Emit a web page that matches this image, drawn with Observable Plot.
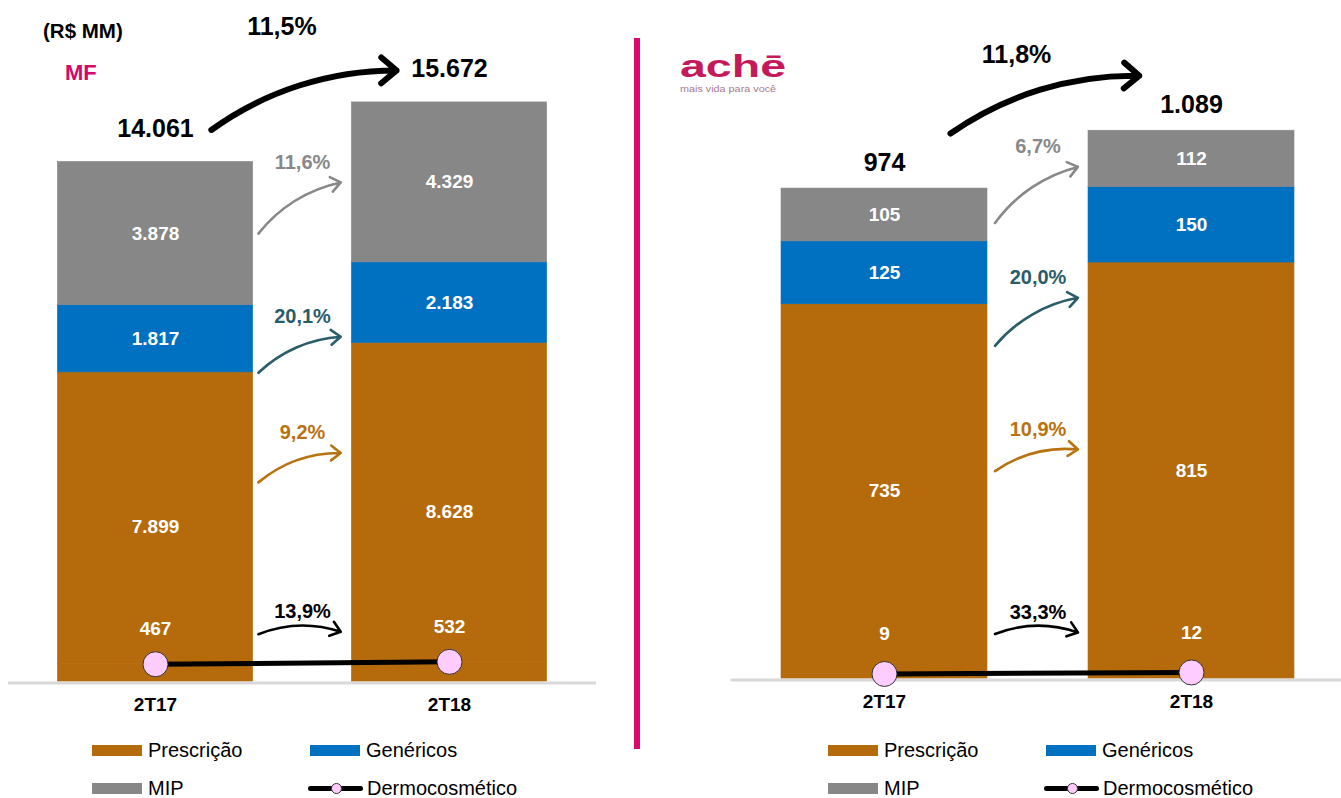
<!DOCTYPE html>
<html><head><meta charset="utf-8">
<script src="https://cdn.jsdelivr.net/npm/d3@7"></script>
<script src="https://cdn.jsdelivr.net/npm/@observablehq/plot@0.6"></script>
<style>
body{margin:0;width:1341px;height:798px;position:relative;background:#fff;font-family:"Liberation Sans",Arial,sans-serif;overflow:hidden}
.abs{position:absolute}
.lg{position:absolute;font-size:20px;color:#000;line-height:20px;white-space:nowrap}
.sw{position:absolute;height:11px;width:50px}
.ln{position:absolute;height:5px;background:#000;border-radius:3px}
.dot{position:absolute;width:11px;height:11px;border-radius:50%;background:#FFCCFF;border:1px solid #333;box-sizing:border-box}
</style></head><body>
<div id="left" class="abs" style="left:0;top:0"></div>
<div id="right" class="abs" style="left:720px;top:0"></div>
<div class="abs" style="left:43px;top:19px;font-weight:bold;font-size:20.5px">(R$ MM)</div>
<div class="abs" style="left:65px;top:60px;font-weight:bold;font-size:22px;color:#D4086E">MF</div>
<div class="abs" style="left:634px;top:38px;width:6px;height:711px;background:#DC0A6E"></div>
<div class="abs" style="left:680px;top:50px;width:108px;height:46px">
  <div style="position:absolute;left:0;top:0;font-weight:bold;font-size:31px;line-height:34px;color:#C4195A;transform:scaleX(1.5);transform-origin:0 0;white-space:nowrap">achē</div>
  <div style="position:absolute;left:0;top:34px;font-size:9px;line-height:10px;color:#A87890;transform:scaleX(1.2);transform-origin:0 0;white-space:nowrap">mais vida para você</div>
</div>
<div id="legends"></div>
<script>
// ---- data ----
const periods = ["2T17", "2T18"];
const seriesNames = ["Prescrição", "Genéricos", "MIP", "Dermocosmético"];

const mfPrescricao = [7899, 8628];
const mfGenericos = [1817, 2183];
const mfMIP = [3878, 4329];
const mfDermo = [467, 532];
const mfTotal = [14061, 15672];
const mfGrowth = ["9,2%", "20,1%", "11,6%", "13,9%"];   // Prescrição, Genéricos, MIP, Dermo
const mfTotalGrowth = "11,5%";

const achePrescricao = [735, 815];
const acheGenericos = [125, 150];
const acheMIP = [105, 112];
const acheDermo = [9, 12];
const acheTotal = [974, 1089];
const acheGrowth = ["10,9%", "20,0%", "6,7%", "33,3%"];
const acheTotalGrowth = "11,8%";

// ---- styles ----
const COLORS = {"Prescrição": "#B56B0C", "Genéricos": "#0070C0", "MIP": "#878787", "Dermocosmético": "#000000"};
const GROWTH_COLORS = {"Prescrição": "#B8720F", "Genéricos": "#2A5C6A", "MIP": "#888888", "Dermocosmético": "#000000"};
const fmt = d3.formatLocale({decimal: ",", thousands: ".", grouping: [3], currency: ["R$ ", ""]}).format(",d");

function panel(el, d, o) {
  const rows = [];
  const segs = [["Dermocosmético", d.dermo, "Prescrição"], ["Prescrição", d.presc, "Prescrição"], ["Genéricos", d.gen, "Genéricos"], ["MIP", d.mip, "MIP"]];
  periods.forEach((p, i) => {
    let acc = 0;
    for (const [key, vals, fk] of segs) {
      rows.push({i, key, value: vals[i], y1: acc, y2: acc + vals[i], fill: COLORS[fk]});
      acc += vals[i];
    }
  });
  const seg = (key, i) => rows.find(r => r.key === key && r.i === i);
  const anchorOf = (key, i, type) => {
    const r = seg(key, i);
    return type === "mid" ? (r.y1 + r.y2) / 2 : type === "top" ? r.y2 : r.value;
  };
  const growthKeys = ["Prescrição", "Genéricos", "MIP", "Dermocosmético"];
  const growthMarks = growthKeys.flatMap((key, k) => {
    const a = o.arrows[key];
    const g = [{a0: anchorOf(key, 0, a.anchor), a1: anchorOf(key, 1, a.anchor), label: d.growth[k]}];
    return [
      Plot.arrow(g, {x1: o.ax1, x2: o.ax2, y1: "a0", y2: "a1", dy: a.dy, stroke: GROWTH_COLORS[key],
        strokeWidth: 2.6, bend: 20, headLength: 7, headAngle: 75}),
      Plot.text(g, {x: 0.5, y: "a1", dy: a.dy + o.labelDy, text: "label", fill: GROWTH_COLORS[key],
        fontSize: 20, fontWeight: "bold"})
    ];
  });
  const tot = [{a0: d.total[0], a1: d.total[1], label: d.totalGrowth}];
  const presRows = rows.filter(r => r.key === "Prescrição");
  const midRows = rows.filter(r => r.key === "Genéricos" || r.key === "MIP");
  const dermoRows = rows.filter(r => r.key === "Dermocosmético");
  const totals = periods.map((p, i) => ({i, total: d.total[i]}));

  const chart = Plot.plot({
    width: o.width, height: 720,
    marginLeft: o.ml, marginRight: o.mr, marginTop: 0, marginBottom: o.mb,
    x: {domain: o.xdomain, axis: null},
    y: {domain: [0, o.ymax], axis: null},
    color: {type: "identity"},
    style: {fontFamily: "'Liberation Sans', Arial, sans-serif", overflow: "visible"},
    marks: [
      Plot.ruleY([0], {stroke: "#D9D9D9", strokeWidth: 3, dy: 1.5}),
      Plot.rect(rows, {x1: r => r.i - o.hw, x2: r => r.i + o.hw, y1: "y1", y2: "y2", fill: "fill", stroke: "fill", strokeWidth: 0.6}),
      Plot.text(presRows, {x: "i", y: r => r.y2 / 2, text: r => fmt(r.value), fill: "white", fontSize: 19, fontWeight: "bold"}),
      Plot.text(midRows, {x: "i", y: r => (r.y1 + r.y2) / 2, text: r => fmt(r.value), fill: "white", fontSize: 19, fontWeight: "bold"}),
      Plot.text(dermoRows, {x: "i", y: "value", dy: o.dermoLabelDy, text: r => fmt(r.value), fill: "white", fontSize: 19, fontWeight: "bold"}),
      Plot.text(totals, {x: "i", y: "total", dy: o.totalDy, text: r => fmt(r.total), fill: "black", fontSize: 25, fontWeight: "bold"}),
      Plot.line(dermoRows, {x: "i", y: "value", stroke: "black", strokeWidth: 5}),
      Plot.dot(dermoRows, {x: "i", y: "value", r: 12.5, fill: "#FFCCFF", stroke: "#333", strokeWidth: 1}),
      ...growthMarks,
      Plot.arrow(tot, {x1: o.tx1, x2: o.tx2, y1: "a0", y2: "a1", dy: o.totalArrowDy, stroke: "black",
        strokeWidth: 6, bend: 18, headLength: 5, headAngle: 80}),
      Plot.text(tot, {x: 0.43, y: "a1", dy: o.totalLabelDy, text: "label", fill: "black", fontSize: 25, fontWeight: "bold"}),
      Plot.axisX({ticks: [0, 1], tickFormat: i => periods[i], tickSize: 0, tickPadding: 16, fontSize: 19,
        fontWeight: "bold", fill: "black", label: null})
    ]
  });
  el.appendChild(chart);
}

panel(document.getElementById("left"),
  {presc: mfPrescricao, gen: mfGenericos, mip: mfMIP, dermo: mfDermo, total: mfTotal, growth: mfGrowth, totalGrowth: mfTotalGrowth},
  {width: 620, ml: 8, mr: 24, mb: 39, xdomain: [-0.5, 1.5], ymax: 681 / 0.03695, hw: 0.332,
   ax1: 0.35, ax2: 0.63, tx1: 0.19, tx2: 0.82, labelDy: -20, totalDy: -33, dermoLabelDy: -35,
   totalArrowDy: -32, totalLabelDy: -75,
   arrows: {"MIP": {anchor: "mid", dy: 0}, "Genéricos": {anchor: "mid", dy: 34},
            "Prescrição": {anchor: "top", dy: 110}, "Dermocosmético": {anchor: "value", dy: -30}}});

panel(document.getElementById("right"),
  {presc: achePrescricao, gen: acheGenericos, mip: acheMIP, dermo: acheDermo, total: acheTotal, growth: acheGrowth, totalGrowth: acheTotalGrowth},
  {width: 621, ml: 10.5, mr: 0, mb: 42, xdomain: [-0.5, 1.4886], ymax: 678 / 0.503, hw: 0.3355,
   ax1: 0.36, ax2: 0.63, tx1: 0.215, tx2: 0.83, labelDy: -20, totalDy: -26, dermoLabelDy: -40,
   totalArrowDy: -55, totalLabelDy: -76,
   arrows: {"MIP": {anchor: "mid", dy: 8}, "Genéricos": {anchor: "mid", dy: 73},
            "Prescrição": {anchor: "mid", dy: -18}, "Dermocosmético": {anchor: "value", dy: -40}}});

// ---- legends ----
function legend(x0, x1) {
  const c = document.getElementById("legends");
  const items = [
    [seriesNames[0], x0, 745], [seriesNames[1], x1, 745],
    [seriesNames[2], x0, 783], [seriesNames[3], x1, 783]
  ];
  for (const [name, x, y] of items) {
    if (name === "Dermocosmético") {
      c.insertAdjacentHTML("beforeend",
        `<div class="ln" style="left:${x - 2}px;top:${y + 3}px;width:55px"></div>` +
        `<div class="dot" style="left:${x + 21}px;top:${y}px"></div>` +
        `<div class="lg" style="left:${x + 57}px;top:${y - 5}px">${name}</div>`);
    } else {
      c.insertAdjacentHTML("beforeend",
        `<div class="sw" style="left:${x}px;top:${y}px;background:${COLORS[name]}"></div>` +
        `<div class="lg" style="left:${x + 56}px;top:${y - 5}px">${name}</div>`);
    }
  }
}
legend(92, 310);
legend(828, 1046);
</script>
</body></html>
